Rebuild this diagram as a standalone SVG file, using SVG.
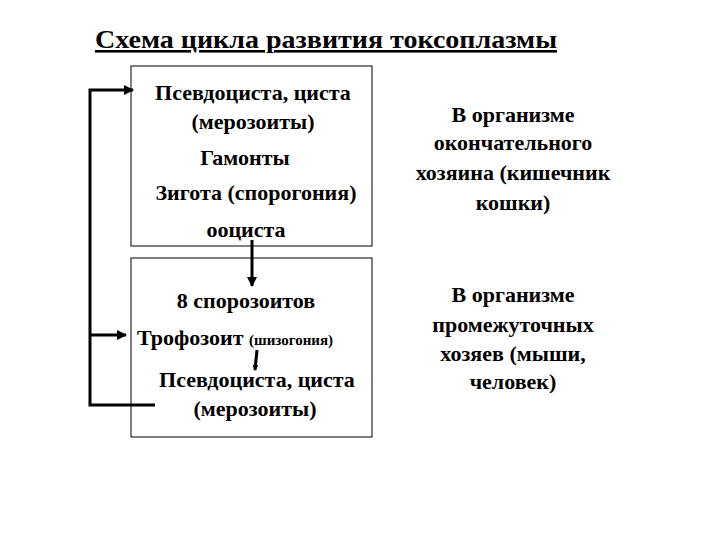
<svg xmlns="http://www.w3.org/2000/svg" width="720" height="540" viewBox="0 0 720 540">
<style>
text{font-family:"Liberation Serif","DejaVu Serif",serif;font-weight:bold;font-size:22px;fill:#000;text-anchor:middle}
.box{fill:#fff;stroke:#000;stroke-width:1}
.ln{fill:none;stroke:#000;stroke-width:3}
</style>
<defs><marker id="ah" markerWidth="6" markerHeight="6" refX="5" refY="3" orient="auto" markerUnits="userSpaceOnUse" viewBox="0 0 6 6"><path d="M0,0L6,3L0,6z" fill="#000"/></marker>
<marker id="ah2" markerWidth="10" markerHeight="10" refX="9" refY="5" orient="auto" markerUnits="userSpaceOnUse" viewBox="0 0 10 10"><path d="M0,0L10,5L0,10z" fill="#000"/></marker></defs>
<rect width="720" height="540" fill="#fff"/>
<text x="326" y="48" style="font-size:26px;text-decoration:underline" textLength="462" lengthAdjust="spacingAndGlyphs">Схема цикла развития токсоплазмы</text>
<g id="top"><rect class="box" x="131" y="66" width="241" height="180"/>
<text x="253" y="100">Псевдоциста, циста</text>
<text x="253" y="129">(мерозоиты)</text>
<text x="245" y="165">Гамонты</text>
<text x="256" y="200">Зигота (спорогония)</text>
<text x="246" y="237">ооциста</text></g>
<g id="bottom"><rect class="box" x="131" y="258" width="241" height="179"/>
<text x="246" y="308">8 спорозоитов</text>
<text x="137" y="345" style="text-anchor:start">Трофозоит <tspan style="font-size:15px">(шизогония)</tspan></text>
<text x="257" y="387">Псевдоциста, циста</text>
<text x="255" y="416">(мерозоиты)</text></g>
<g id="final"><text x="513" y="122">В организме</text>
<text x="513" y="150">окончательного</text>
<text x="513" y="180">хозяина (кишечник</text>
<text x="513" y="210">кошки)</text></g>
<g id="inter"><text x="513" y="302">В организме</text>
<text x="513" y="332">промежуточных</text>
<text x="513" y="361">хозяев (мыши,</text>
<text x="513" y="389">человек)</text></g>
<g id="connectors">
<polyline class="ln" points="155,405 90,405 90,90 126,90"/>
<path d="M126,90 L133,90" stroke="#000" stroke-width="3" marker-end="url(#ah2)"/>
<polyline class="ln" points="90,335 126,335" marker-end="url(#ah2)"/>
<line class="ln" x1="252" y1="240" x2="252" y2="286" marker-end="url(#ah2)"/>
<line class="ln" x1="257" y1="350" x2="255" y2="370" marker-end="url(#ah)"/>
</g>
</svg>
